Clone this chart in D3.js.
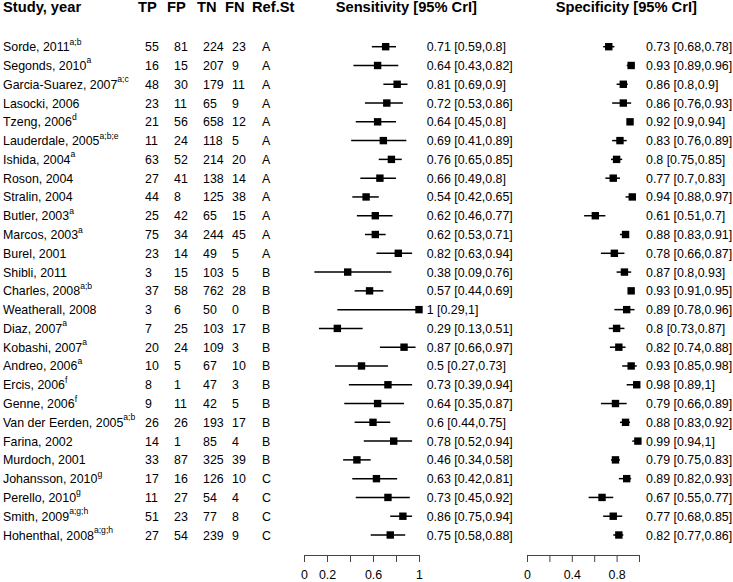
<!DOCTYPE html>
<html>
<head>
<meta charset="utf-8">
<script src="https://cdn.jsdelivr.net/npm/d3@7"></script>
<style>
  html, body { margin: 0; padding: 0; background: #fff; }
  svg text { font-family: "Liberation Sans", Arial, Helvetica, sans-serif; fill: #000; }
</style>
</head>
<body>
<svg id="chart" width="733" height="582"></svg>
<script>
// ---------------- data ----------------
const studies = ["Sorde, 2011","Segonds, 2010","Garcia-Suarez, 2007","Lasocki, 2006","Tzeng, 2006",
  "Lauderdale, 2005","Ishida, 2004","Roson, 2004","Stralin, 2004","Butler, 2003","Marcos, 2003",
  "Burel, 2001","Shibli, 2011","Charles, 2008","Weatherall, 2008","Diaz, 2007","Kobashi, 2007",
  "Andreo, 2006","Ercis, 2006","Genne, 2006","Van der Eerden, 2005","Farina, 2002","Murdoch, 2001",
  "Johansson, 2010","Perello, 2010","Smith, 2009","Hohenthal, 2008"];
const notes = ["a;b","a","a;c","","d","a;b;e","a","","","a","a","","","a;b","","a","a","a","f","f",
  "a;b","","","g","g","a;g;h","a;g;h"];
const TP = [55,16,48,23,21,11,63,27,44,25,75,23,3,37,3,7,20,10,8,9,26,14,33,17,11,51,27];
const FP = [81,15,30,11,56,24,52,41,8,42,34,14,15,58,6,25,24,5,1,11,26,1,87,16,27,23,54];
const TN = [224,207,179,65,658,118,214,138,125,65,244,49,103,762,50,103,109,67,47,42,193,85,325,126,54,77,239];
const FN = [23,9,11,9,12,5,20,14,38,15,45,5,5,28,0,17,3,10,3,5,17,4,39,10,4,8,9];
const refStd = ["A","A","A","A","A","A","A","A","A","A","A","A","B","B","B","B","B","B","B","B","B","B","B","C","C","C","C"];
const sens   = [0.71,0.64,0.81,0.72,0.64,0.69,0.76,0.66,0.54,0.62,0.62,0.82,0.38,0.57,1,0.29,0.87,0.5,0.73,0.64,0.6,0.78,0.46,0.63,0.73,0.86,0.75];
const sensLo = [0.59,0.43,0.69,0.53,0.45,0.41,0.65,0.49,0.42,0.46,0.53,0.63,0.09,0.44,0.29,0.13,0.66,0.27,0.39,0.35,0.44,0.52,0.34,0.42,0.45,0.75,0.58];
const sensHi = [0.8,0.82,0.9,0.86,0.8,0.89,0.85,0.8,0.65,0.77,0.71,0.94,0.76,0.69,1,0.51,0.97,0.73,0.94,0.87,0.75,0.94,0.58,0.81,0.92,0.94,0.88];
const spec   = [0.73,0.93,0.86,0.86,0.92,0.83,0.8,0.77,0.94,0.61,0.88,0.78,0.87,0.93,0.89,0.8,0.82,0.93,0.98,0.79,0.88,0.99,0.79,0.89,0.67,0.77,0.82];
const specLo = [0.68,0.89,0.8,0.76,0.9,0.76,0.75,0.7,0.88,0.51,0.83,0.66,0.8,0.91,0.78,0.73,0.74,0.85,0.89,0.66,0.83,0.94,0.75,0.82,0.55,0.68,0.77];
const specHi = [0.78,0.96,0.9,0.93,0.94,0.89,0.85,0.83,0.97,0.7,0.91,0.87,0.93,0.95,0.96,0.87,0.88,0.98,1,0.89,0.92,1,0.83,0.93,0.77,0.85,0.86];
const headers = ["Study, year","TP","FP","TN","FN","Ref.St","Sensitivity [95% CrI]","Specificity [95% CrI]"];
const tickValues = [0,0.2,0.4,0.6,0.8,1];
const sensTickLabels = ["0","0.2","","0.6","","1"];
const specTickLabels = ["0","","0.4","","0.8",""];

// ---------------- layout ----------------
const svg = d3.select("#chart");
const FS = 12.4;
const y = d3.scalePoint().domain(studies).range([46.7, 535]);
const xSens = d3.scaleLinear().domain([0, 1]).range([304, 419]);
const xSpec = d3.scaleLinear().domain([0, 1]).range([527, 639]);
const colX = { TP: 145, FP: 174, TN: 203, FN: 232, Ref: 262 };
const headerX = [3, 138, 167, 197, 225, 252, 335.7, 555.7];
const box = 7.4;

// headers
svg.append("g").selectAll("text").data(headers).join("text")
  .attr("x", (d, i) => headerX[i]).attr("y", 12)
  .attr("font-size", 14.7).attr("font-weight", "bold")
  .text(d => d);

const rows = svg.append("g").selectAll("g").data(studies).join("g")
  .attr("transform", d => `translate(0,${y(d)})`);

// study names with superscripts
const nameText = rows.append("text").attr("x", 3).attr("y", 4.5).attr("font-size", FS);
nameText.append("tspan").text(d => d);
nameText.filter((d, i) => notes[i] !== "").append("tspan")
  .attr("font-size", 8.6).attr("dy", -6.5)
  .text(d => notes[studies.indexOf(d)]);

function col(arr, x) {
  rows.append("text").attr("x", x).attr("y", 4.5).attr("font-size", FS)
    .text((d, i) => arr[i]);
}
col(TP, colX.TP); col(FP, colX.FP); col(TN, colX.TN); col(FN, colX.FN); col(refStd, colX.Ref);

function forest(x, est, lo, hi, textX) {
  rows.append("line")
    .attr("x1", (d, i) => x(lo[i])).attr("x2", (d, i) => x(hi[i]))
    .attr("y1", 0).attr("y2", 0)
    .attr("stroke", "#000").attr("stroke-width", 1.5);
  rows.append("rect")
    .attr("x", (d, i) => x(est[i]) - box / 2).attr("y", -box / 2)
    .attr("width", box).attr("height", box).attr("fill", "#000");
  rows.append("text").attr("x", textX).attr("y", 4.5).attr("font-size", FS)
    .text((d, i) => `${est[i]} [${lo[i]},${hi[i]}]`);
}
forest(xSens, sens, sensLo, sensHi, 426.7);
forest(xSpec, spec, specLo, specHi, 646);

// axes
function drawAxis(x, labels) {
  const g = svg.append("g").attr("transform", "translate(0,555)")
    .call(d3.axisBottom(x).tickValues(tickValues).tickSize(7).tickSizeOuter(0).tickPadding(8.3)
      .tickFormat((d, i) => labels[i]));
  g.selectAll("path, line").attr("stroke", "#444");
  g.selectAll("text").attr("font-size", FS)
    .attr("font-family", '"Liberation Sans", Arial, sans-serif').attr("fill", "#000");
  g.selectAll("text").filter(function () { return this.textContent === ""; }).remove();
}
drawAxis(xSens, sensTickLabels);
drawAxis(xSpec, specTickLabels);
</script>
</body>
</html>
